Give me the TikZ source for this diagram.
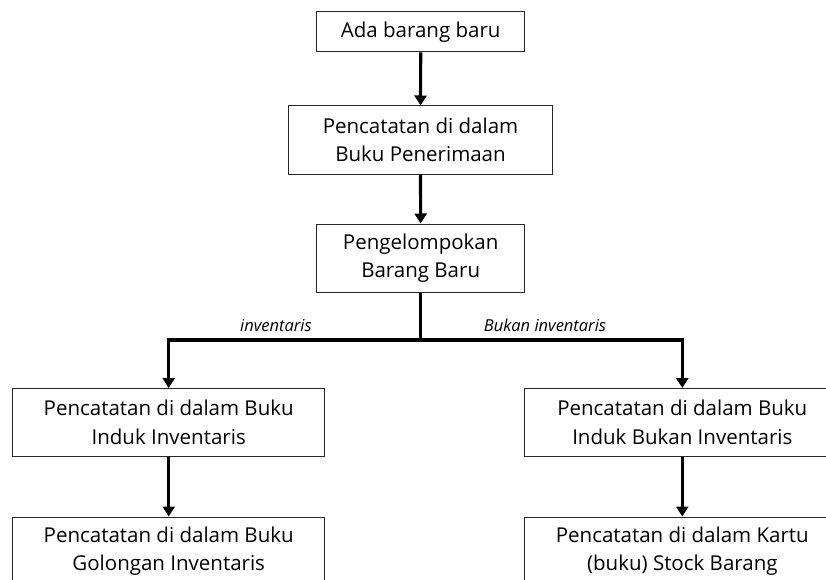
\documentclass[tikz,border=0pt]{standalone}
\usepackage{fontspec}
\setmainfont{Open Sans}
\usetikzlibrary{arrows.meta}
\begin{document}
\begin{tikzpicture}[x=1pt,y=-1pt,
  box/.style={draw=black!85,line width=1pt,fill=white,align=center,inner sep=0pt,
    font=\fontsize{20.5}{28.5}\selectfont},
  arr/.style={line width=3.2pt,line join=miter,-{Triangle[length=10pt,width=12pt]}},
  lbl/.style={font=\fontsize{16.5}{18}\selectfont\itshape,anchor=base}]
\useasboundingbox (0,0) rectangle (826,580);
\clip (0,0) rectangle (826,580);
\fill[white] (0,0) rectangle (826,580);
\node[box,minimum width=208pt,minimum height=40pt] (b1) at (420.7,32) {Ada barang baru};
\node[box,minimum width=264pt,minimum height=68pt] (b2) at (420.5,140) {Pencatatan di dalam\\Buku Penerimaan};
\node[box,minimum width=208pt,minimum height=68pt] (b3) at (420.7,258) {Pengelompokan\\Barang Baru};
\node[box,minimum width=312pt,minimum height=68pt] (b4) at (168.7,422.5) {Pencatatan di dalam Buku\\Induk Inventaris};
\node[box,minimum width=312pt,minimum height=68pt] (b5) at (168.7,551) {Pencatatan di dalam Buku\\Golongan Inventaris};
\node[box,minimum width=316pt,minimum height=68pt] (b6) at (682.3,422.5) {Pencatatan di dalam Buku\\Induk Bukan Inventaris};
\node[box,minimum width=316pt,minimum height=68pt] (b7) at (682.3,551) {Pencatatan di dalam Kartu\\(buku) Stock Barang};
\coordinate (j) at (420.7,340);
\draw[arr] (b1) -- (b2);
\draw[arr] (b2) -- (b3);
\draw[arr] (b3.south) -- (j) -| (b4.north);
\draw[arr] (j) -| (b6.north);
\draw[arr] (b4) -- (b5);
\draw[arr] (b6) -- (b7);
\node[lbl] (l1) at (276,331.5) {inventaris};
\node[lbl] (l2) at (545,331.5) {Bukan inventaris};
\end{tikzpicture}
\end{document}
